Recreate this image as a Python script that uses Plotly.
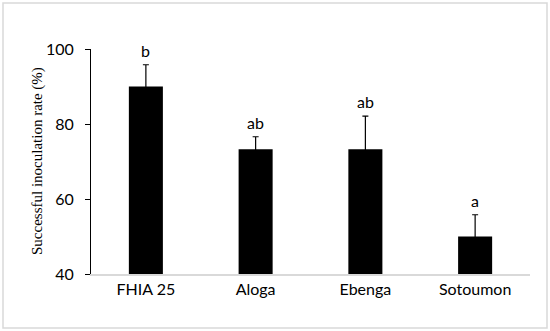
import plotly.graph_objects as go

categories = ["FHIA 25", "Aloga", "Ebenga", "Sotoumon"]
values = [90.0, 73.3, 73.3, 50.0]
errors = [5.8, 3.3, 8.8, 5.8]
letters = ["b", "ab", "ab", "a"]
y_ticks = [40, 60, 80, 100]
y_title = "Successful inoculation rate (%)"

W, H = 550, 331
L, R, T, B = 91, 20, 49, 57
pw = W - L - R
ph = H - T - B

fig = go.Figure()
fig.add_trace(go.Bar(
    x=categories, y=values,
    marker=dict(color="black", line=dict(width=0)),
    width=0.31,
    error_y=dict(type="data", array=errors, symmetric=True,
                 color="black", thickness=1.2, width=3),
))
for c, v, e, t in zip(categories, values, errors, letters):
    fig.add_annotation(x=c, y=v + e, text=t, showarrow=False, yanchor="bottom",
                       yshift=3, font=dict(family="Lato", size=16, color="black"))

fig.add_annotation(xref="paper", yref="paper", x=(37 - L) / pw, y=(H - B - 161) / ph,
                   text=y_title, textangle=-90, showarrow=False,
                   xanchor="center", yanchor="middle",
                   font=dict(family="Liberation Serif", size=15, color="black"))

fig.add_shape(type="rect", xref="paper", yref="paper",
              x0=(3 - L) / pw, x1=(547 - L) / pw,
              y0=(H - B - 328) / ph, y1=(H - B - 3) / ph,
              line=dict(color="#d9d9d9", width=1.5), layer="below")

fig.update_layout(
    width=W, height=H,
    margin=dict(l=L, r=R, t=T, b=B, autoexpand=False),
    paper_bgcolor="white", plot_bgcolor="white",
    showlegend=False,
    xaxis=dict(showline=True, linecolor="#d9d9d9", linewidth=1.5, ticks="",
               tickfont=dict(family="Lato", size=16, color="black"),
               showgrid=False),
    yaxis=dict(range=[40, 100], tickvals=y_ticks, showline=True, linecolor="black",
               linewidth=1, ticks="outside", ticklen=5, tickcolor="black",
               ticklabelstandoff=8,
               tickfont=dict(family="Lato", size=16, color="black"),
               showgrid=False, zeroline=False),
)
fig.write_html("out.html", config={"displayModeBar": False},
               post_script="document.body.style.margin='0';document.body.style.overflow='hidden';")
